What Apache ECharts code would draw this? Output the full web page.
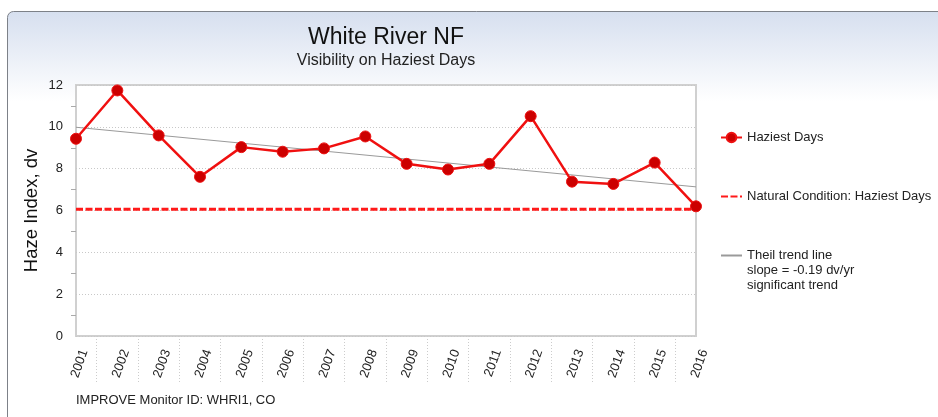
<!DOCTYPE html>
<html>
<head>
<meta charset="utf-8">
<script src="https://cdn.jsdelivr.net/npm/echarts@6/dist/echarts.min.js"></script>
<style>
  html, body { margin: 0; padding: 0; background: #fff; }
  #chart { width: 938px; height: 417px; }
</style>
</head>
<body>
<div id="chart"></div>
<script>
// years on the x axis
const years = ['2001', '2002', '2003', '2004', '2005', '2006', '2007', '2008',
  '2009', '2010', '2011', '2012', '2013', '2014', '2015', '2016']
// haze index on the haziest days, dv
const haziest = [9.43, 11.74, 9.59, 7.61, 9.03, 8.81, 8.97, 9.54,
  8.23, 7.96, 8.23, 10.51, 7.38, 7.27, 8.29, 6.2]
// natural condition level
const naturalLevel = 6.06
// Theil trend line end points
const trendYears = ['2001', '2016']
const trendValues = [9.98, 7.13]
const trendNote = 'slope = -0.19 dv/yr\nsignificant trend'
// half-step positions for the dotted separators under the axis
const halfSteps = []
for (let i = 0; i < years.length * 2 - 1; i++) halfSteps.push(String(i))

const FONT = 'Liberation Sans, Arial, sans-serif'
const chart = echarts.init(document.getElementById('chart'))

const option = {
  animation: false,
  textStyle: { fontFamily: FONT },
  graphic: [{
    type: 'rect',
    z: -10,
    shape: { x: 7.5, y: 11.5, width: 1000, height: 500, r: 6 },
    style: {
      fill: new echarts.graphic.LinearGradient(0, 0, 0, 1, [
        { offset: 0, color: '#d6dfef' },
        { offset: 0.18, color: '#ffffff' },
        { offset: 1, color: '#ffffff' }
      ]),
      stroke: '#7d8188',
      lineWidth: 1
    }
  }, {
    type: 'text',
    left: 76,
    top: 394,
    style: { text: 'IMPROVE Monitor ID: WHRI1, CO', font: '13px ' + FONT, fill: '#222' }
  }, {
    type: 'text',
    left: 747,
    top: 263,
    style: { text: trendNote, font: '13px ' + FONT, fill: '#222', lineHeight: 15 }
  }],
  title: {
    text: 'White River NF',
    subtext: 'Visibility on Haziest Days',
    left: 381,
    textAlign: 'center',
    top: 21,
    itemGap: 4,
    textStyle: { fontSize: 23, fontWeight: 'normal', color: '#111', fontFamily: FONT },
    subtextStyle: { fontSize: 16, color: '#222', fontFamily: FONT }
  },
  legend: {
    orient: 'vertical',
    left: 715,
    top: 126,
    itemGap: 46,
    itemWidth: 21,
    itemHeight: 12,
    textStyle: { fontSize: 13, color: '#222', fontFamily: FONT },
    data: [
      { name: 'Haziest Days' },
      { name: 'Natural Condition: Haziest Days', itemStyle: { opacity: 0 } },
      { name: 'Theil trend line', itemStyle: { opacity: 0 } }
    ]
  },
  grid: {
    left: 76, right: 242, top: 85, bottom: 81,
    show: true, backgroundColor: '#fff', borderColor: '#d0d0d0', borderWidth: 2
  },
  xAxis: [{
    type: 'category',
    data: years,
    boundaryGap: false,
    axisLine: { show: false },
    axisTick: { show: false },
    axisLabel: {
      rotate: 70,
      margin: 11,
      verticalAlign: 'top',
      formatter: (v) => '{y|' + v + '}',
      rich: { y: { fontSize: 13, color: '#222', lineHeight: 18, fontFamily: FONT } }
    }
  }, {
    type: 'category',
    data: halfSteps,
    position: 'bottom',
    boundaryGap: false,
    axisLine: { show: false },
    axisLabel: { show: false },
    axisTick: {
      show: true,
      interval: (i) => i % 2 === 1,
      length: 47,
      lineStyle: { color: '#cccccc', type: [1, 2] }
    }
  }],
  yAxis: {
    type: 'value',
    min: 0, max: 12, interval: 2,
    name: 'Haze Index, dv',
    nameLocation: 'middle',
    nameGap: 35,
    nameMoveOverlap: false,
    nameTextStyle: { fontSize: 18.5, color: '#111', fontFamily: FONT },
    axisLine: { show: false },
    axisTick: { show: false },
    minorTick: { show: true, splitNumber: 2, length: 5, lineStyle: { color: '#aaa' } },
    axisLabel: { fontSize: 13, color: '#222', margin: 13 },
    splitLine: { lineStyle: { color: '#c8c8c8', type: [1, 2] } }
  },
  series: [{
    name: 'Theil trend line',
    type: 'line',
    data: trendYears.map((y, i) => [y, trendValues[i]]),
    symbol: 'none',
    lineStyle: { color: '#9a9a9a', width: 1 },
    itemStyle: { color: '#9a9a9a' },
    z: 2
  }, {
    name: 'Natural Condition: Haziest Days',
    type: 'line',
    data: years.map(() => naturalLevel),
    symbol: 'none',
    lineStyle: { color: '#ff1a1a', width: 3, type: [7, 2.5] },
    itemStyle: { color: '#ff1a1a' },
    z: 3
  }, {
    name: 'Haziest Days',
    type: 'line',
    data: haziest,
    symbol: 'circle',
    symbolSize: 11,
    lineStyle: { color: '#f01010', width: 2.5 },
    itemStyle: { color: '#cc0000', borderColor: '#ee1111', borderWidth: 1 },
    z: 4
  }]
}

chart.setOption(option)
</script>
</body>
</html>
